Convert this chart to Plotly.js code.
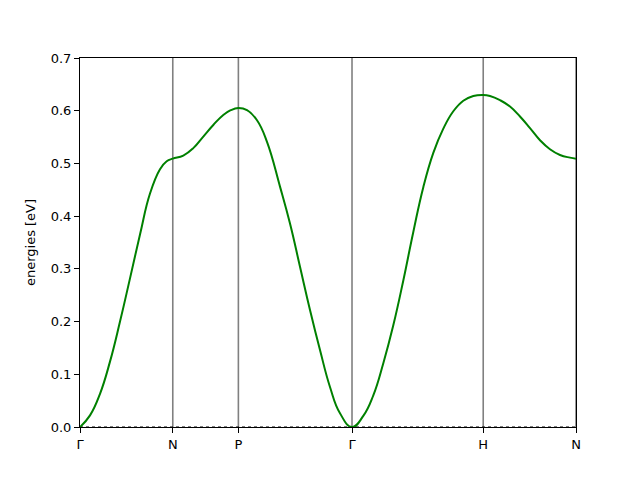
<!DOCTYPE html>
<html>
<head>
<meta charset="utf-8">
<script src="https://cdn.plot.ly/plotly-3.0.1.min.js"></script>
<style>
  body { margin: 0; padding: 0; background: #fff; }
  #plot { width: 640px; height: 480px; }
</style>
</head>
<body>
<div id="plot"></div>
<script>
// high symmetry points along the path (path length, 2pi/a units)
let symLabels = ['Γ', 'N', 'P', 'Γ', 'H', 'N'];
let symPos = [0, 0.7071, 1.2071, 2.0731, 3.0731, 3.7802];

// band, one array pair per segment
let kGN = [0, 0.0762, 0.1524, 0.2286, 0.3049, 0.3811, 0.4573, 0.5335, 0.6097, 0.6608, 0.7071];
let eGN = [0, 0.022, 0.063, 0.124, 0.200, 0.282, 0.365, 0.443, 0.489, 0.504, 0.509];

let kNP = [0.7873, 0.8635, 0.9397, 1.0159, 1.0921, 1.1486, 1.2071];
let eNP = [0.515, 0.529, 0.551, 0.573, 0.592, 0.601, 0.605];

let kPG = [1.2728, 1.3490, 1.4252, 1.5243, 1.6005, 1.6767, 1.7529, 1.8291, 1.9053, 1.9815, 2.0731];
let ePG = [0.601, 0.582, 0.541, 0.456, 0.386, 0.304, 0.222, 0.146, 0.076, 0.026, 0];

let kGH = [2.1592, 2.2354, 2.3116, 2.3878, 2.4641, 2.5403, 2.6165, 2.6927, 2.7689, 2.8451, 2.9213, 2.9975, 3.0731];
let eGH = [0.021, 0.060, 0.121, 0.193, 0.278, 0.370, 0.455, 0.520, 0.566, 0.599, 0.619, 0.628, 0.630];

let kHN = [3.1248, 3.2010, 3.2772, 3.3534, 3.4296, 3.5058, 3.5820, 3.6583, 3.7345, 3.7802];
let eHN = [0.628, 0.620, 0.608, 0.589, 0.567, 0.544, 0.527, 0.516, 0.511, 0.509];

let kAll = kGN.concat(kNP, kPG, kGH, kHN);
let eAll = eGN.concat(eNP, ePG, eGH, eHN);

let font = {family: 'DejaVu Sans', size: 13, color: '#000'};

let band = {
    x: kAll,
    y: eAll,
    mode: 'lines',
    line: {color: 'green', width: 2, shape: 'spline', smoothing: 1.3},
    hoverinfo: 'skip'
};

// dotted fermi level
let fermi = {
    x: [symPos[0], symPos[symPos.length - 1]],
    y: [0, 0],
    mode: 'lines',
    line: {color: 'black', width: 1.2, dash: 'dot'},
    hoverinfo: 'skip'
};

// vertical lines at the high symmetry points
let shapes = [];
for (let i = 1; i < symPos.length; i++){
    shapes.push({
        type: 'line', xref: 'x', yref: 'paper',
        x0: symPos[i], x1: symPos[i], y0: 0, y1: 1,
        line: {color: 'gray', width: 1.6},
        layer: 'below'
    });
}

let layout = {
    width: 640,
    height: 480,
    margin: {l: 80, r: 64, t: 58, b: 53},
    paper_bgcolor: '#fff',
    plot_bgcolor: '#fff',
    showlegend: false,
    font: font,
    shapes: shapes,
    xaxis: {
        range: [symPos[0], symPos[symPos.length - 1]],
        tickmode: 'array',
        tickvals: symPos,
        ticktext: symLabels,
        ticks: 'outside',
        ticklen: 5,
        tickcolor: '#000',
        showgrid: false,
        zeroline: false,
        showline: true,
        linecolor: '#000',
        linewidth: 1,
        mirror: true,
        tickfont: font
    },
    yaxis: {
        range: [0, 0.7],
        dtick: 0.1,
        tickformat: '.1f',
        ticks: 'outside',
        ticklen: 5,
        tickcolor: '#000',
        showgrid: false,
        zeroline: false,
        showline: true,
        linecolor: '#000',
        linewidth: 1,
        mirror: true,
        tickfont: font,
        title: {text: 'energies [eV]', font: font, standoff: 12}
    }
};

Plotly.newPlot('plot', [fermi, band], layout, {staticPlot: true});
</script>
</body>
</html>
